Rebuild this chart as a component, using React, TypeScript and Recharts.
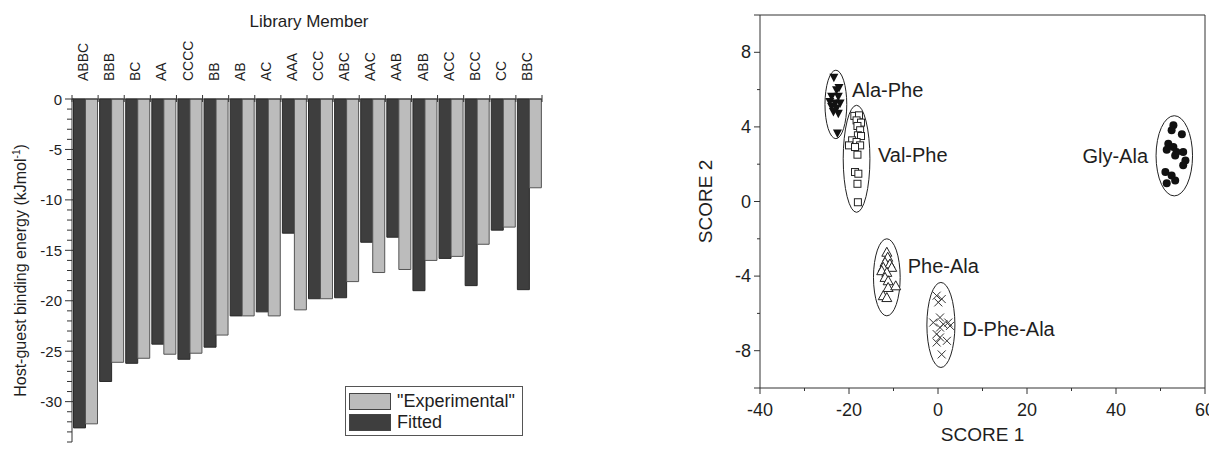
import React from 'react';
import {
  BarChart, Bar, XAxis, YAxis, Legend, Label,
  ScatterChart, Scatter, ReferenceLine, ReferenceArea, ReferenceDot,
} from 'recharts';

const FONT = '"Liberation Sans", Arial, sans-serif';
const INK = '#1e1e1e';

// left panel: binding energies per library member
const members = ['ABBC', 'BBB', 'BC', 'AA', 'CCCC', 'BB', 'AB', 'AC', 'AAA', 'CCC', 'ABC', 'AAC', 'AAB', 'ABB', 'ACC', 'BCC', 'CC', 'BBC'];
const fitted = [-32.6, -28.0, -26.2, -24.3, -25.8, -24.6, -21.5, -21.1, -13.3, -19.8, -19.7, -14.2, -13.7, -19.0, -15.8, -18.5, -13.0, -18.9];
const experimental = [-32.2, -26.1, -25.7, -25.3, -25.2, -23.4, -21.5, -21.5, -20.9, -19.8, -18.1, -17.2, -16.9, -16.0, -15.6, -14.4, -12.7, -8.8];
const energyMajorTicks = [0, -5, -10, -15, -20, -25, -30];
const energyTicks = Array.from({ length: 35 }, (_, i) => -i);

const barData = members.map((m, i) => ({ member: m, fitted: fitted[i], experimental: experimental[i] }));

// right panel: PCA scores
const alaPhe = [[-23.4, 6.63], [-22.25, 6.09], [-22.8, 5.97], [-23.9, 5.61], [-22.4, 5.61], [-24.3, 5.34], [-23.1, 5.25], [-22.0, 5.25], [-23.9, 5.07], [-22.8, 4.98], [-23.5, 4.8], [-22.4, 4.71], [-22.6, 3.64]];
const valPhe = [[-18.8, 4.59], [-17.75, 4.62], [-18.3, 4.35], [-17.3, 4.23], [-18.1, 4.05], [-17.5, 3.82], [-18.0, 3.55], [-17.3, 3.51], [-19.3, 3.28], [-18.3, 3.19], [-20.0, 3.01], [-17.5, 3.01], [-18.65, 2.92], [-18.1, 2.51], [-18.65, 1.58], [-17.9, 1.49], [-18.1, 0.95], [-18.0, -0.04]];
const glyAla = [[52.9, 4.09], [52.5, 3.82], [54.8, 3.6], [51.75, 3.1], [52.9, 2.92], [51.4, 2.78], [53.6, 2.65], [55.1, 2.65], [53.3, 2.47], [55.6, 2.2], [55.1, 1.94], [51.1, 1.58], [52.5, 1.4], [53.3, 1.13], [51.4, 0.98]];
const pheAla = [[-11.5, -2.72], [-11.3, -2.99], [-11.9, -3.26], [-10.8, -3.35], [-12.3, -3.53], [-10.4, -3.53], [-12.65, -3.71], [-11.5, -3.8], [-11.9, -4.07], [-11.2, -4.25], [-11.2, -4.61], [-9.5, -4.52], [-12.3, -5.05], [-11.5, -5.15]];
const dPheAla = [[-0.3, -5.05], [0.83, -5.23], [0.07, -5.41], [-1.06, -6.49], [0.45, -6.22], [1.2, -6.58], [2.3, -6.49], [2.7, -6.67], [0.45, -6.76], [-0.3, -7.11], [0.45, -7.29], [2.0, -7.47], [-0.3, -7.56], [0.83, -8.2]];

// cluster outlines [x1, x2, y1, y2]
const clusters = [
  [-25.4, -20.5, 3.37, 7.04],
  [-21.3, -15.3, -0.58, 5.16],
  [49.0, 57.2, 0.3, 4.6],
  [-14.5, -8.5, -6.13, -2.0],
  [-2.5, 3.8, -8.9, -4.34],
];
const clusterNames = ['Ala-Phe', 'Val-Phe', 'Gly-Ala', 'Phe-Ala', 'D-Phe-Ala'];
const labelX = [-19.3, -13.5, 47.2, -6.8, 5.5];
const labelY = [5.97, 2.47, 2.44, -3.47, -6.82];
const labelAnchor = ['start', 'start', 'end', 'start', 'start'];

const score1Ticks = [-40, -30, -20, -10, 0, 10, 20, 30, 40, 50, 60];
const score2Ticks = [-10, -8, -6, -4, -2, 0, 2, 4, 6, 8, 10];

const toPts = (arr: number[][]) => arr.map(([x, y]) => ({ x, y }));

const BAR_W = 560;
const BAR_PLOT_W = 470;
const band = BAR_PLOT_W / members.length;

const EnergyTick = (props: any) => {
  const { x, y, payload } = props;
  const v = payload.value;
  const major = energyMajorTicks.includes(v);
  return (
    <g>
      <line x1={x - (major ? 7 : 5)} x2={x + (major ? 2 : 0)} y1={y} y2={y} stroke="#333" />
      {major && (
        <text x={x - 10} y={y} textAnchor="end" dominantBaseline="central" fontSize={15} fill={INK} fontFamily={FONT}>
          {v}
        </text>
      )}
    </g>
  );
};

const MemberTick = (props: any) => {
  const { x, y, payload, index } = props;
  const h = band / 2;
  return (
    <g>
      <line x1={x - h} x2={x - h} y1={y - 4} y2={y + 3} stroke="#333" />
      {index === members.length - 1 && <line x1={x + h} x2={x + h} y1={y - 4} y2={y + 3} stroke="#333" />}
      <text transform={`translate(${x + 3},${y - 18}) rotate(-90)`} textAnchor="start" fontSize={14} fill={INK} fontFamily={FONT}>
        {payload.value}
      </text>
    </g>
  );
};

const ScoreXTick = (props: any) => {
  const { x, y, payload } = props;
  const major = payload.value % 20 === 0;
  return (
    <g>
      <line x1={x} x2={x} y1={y} y2={y + (major ? 6 : 3)} stroke="#333" />
      {major && (
        <text x={x} y={y + 22} textAnchor="middle" dominantBaseline="central" fontSize={18} fill={INK} fontFamily={FONT}>
          {payload.value}
        </text>
      )}
    </g>
  );
};

const ScoreYTick = (props: any) => {
  const { x, y, payload } = props;
  const major = payload.value % 4 === 0 && Math.abs(payload.value) !== 10;
  const edge = Math.abs(payload.value) === 10;
  return (
    <g>
      <line x1={x - (major || edge ? 6 : 3)} x2={x} y1={y} y2={y} stroke="#333" />
      {major && (
        <text x={x - 9} y={y} textAnchor="end" dominantBaseline="central" fontSize={18} fill={INK} fontFamily={FONT}>
          {payload.value}
        </text>
      )}
    </g>
  );
};

const LegendBox = () => (
  <div
    style={{
      border: '1.5px solid #555', width: 178, height: 50, boxSizing: 'border-box', background: '#fff',
      fontFamily: FONT, fontSize: 18, color: INK, padding: '4px 0 0 3px',
    }}
  >
    {[['"Experimental"', '#bcbcbc'], ['Fitted', '#3e3e3e']].map(([t, c]) => (
      <div key={t} style={{ display: 'flex', alignItems: 'center', height: 20, marginBottom: 1.5 }}>
        <span style={{ width: 40, height: 15, background: c, border: '1px solid #444', marginRight: 6, display: 'inline-block' }} />
        <span>{t}</span>
      </div>
    ))}
  </div>
);

const markers: Record<string, (p: any) => React.ReactElement> = {
  down: ({ cx, cy }) => <polygon points={`${cx - 4.5},${cy - 4} ${cx + 4.5},${cy - 4} ${cx},${cy + 4.5}`} fill="#111" />,
  square: ({ cx, cy }) => <rect x={cx - 3.5} y={cy - 3.5} width={7} height={7} fill="#fff" stroke="#222" />,
  circle: ({ cx, cy }) => <circle cx={cx} cy={cy} r={4} fill="#111" />,
  up: ({ cx, cy }) => <polygon points={`${cx - 5},${cy + 4} ${cx + 5},${cy + 4} ${cx},${cy - 5}`} fill="#fff" stroke="#222" />,
  cross: ({ cx, cy }) => (
    <g stroke="#333" strokeWidth={1}>
      <line x1={cx - 4} y1={cy - 4} x2={cx + 4} y2={cy + 4} />
      <line x1={cx - 4} y1={cy + 4} x2={cx + 4} y2={cy - 4} />
    </g>
  ),
};

export default function App() {
  return (
    <div style={{ position: 'relative', width: 1201, height: 435, fontFamily: FONT }}>
      <div style={{ position: 'absolute', left: 0, top: 0 }}>
        <BarChart width={BAR_W} height={435} data={barData} margin={{ top: 0, right: 26, bottom: 1, left: 0 }} barCategoryGap={1.5} barGap={0}>
          <XAxis
            dataKey="member"
            orientation="top"
            height={91}
            interval={0}
            tickSize={0}
            tickMargin={0}
            tick={<MemberTick />}
            stroke="#333"
          >
            <Label
              content={({ viewBox }: any) => (
                <text x={viewBox.x + viewBox.width / 2 + 2} y={13} textAnchor="middle" dominantBaseline="central" fontSize={17} fill={INK} fontFamily={FONT}>
                  Library Member
                </text>
              )}
            />
          </XAxis>
          <YAxis
            type="number"
            domain={[-34, 0]}
            ticks={energyTicks}
            interval={0}
            width={64}
            tickSize={0}
            tickMargin={0}
            tick={<EnergyTick />}
            stroke="#333"
          >
            <Label
              content={({ viewBox }: any) => (
                <text
                  transform={`translate(${viewBox.x + 18},${viewBox.y + viewBox.height / 2}) rotate(-90)`}
                  textAnchor="middle"
                  fontSize={16}
                  fill={INK}
                  fontFamily={FONT}
                >
                  <tspan>Host-guest binding energy (kJmol</tspan>
                  <tspan fontSize={10} dy={-6}>-1</tspan>
                  <tspan dy={6}>)</tspan>
                </text>
              )}
            />
          </YAxis>
          <Legend layout="horizontal" verticalAlign="middle" wrapperStyle={{ left: 337, top: 378, width: 178 }} content={<LegendBox />} />
          <Bar dataKey="fitted" name="Fitted" fill="#3e3e3e" stroke="#2a2a2a" isAnimationActive={false} />
          <Bar dataKey="experimental" name='"Experimental"' fill="#bcbcbc" stroke="#555" isAnimationActive={false} />
        </BarChart>
      </div>

      <div style={{ position: 'absolute', left: 640, top: 0 }}>
        <ScatterChart width={569} height={443} margin={{ top: 7, right: 12, bottom: 0, left: 0 }} style={{ overflow: 'visible' }}>
          <XAxis
            type="number"
            dataKey="x"
            domain={[-40, 60]}
            ticks={score1Ticks}
            interval={0}
            height={63}
            tickSize={0}
            tickMargin={0}
            tick={<ScoreXTick />}
            stroke="#333"
          >
            <Label
              content={({ viewBox }: any) => (
                <text x={viewBox.x + viewBox.width / 2} y={viewBox.y + 46} textAnchor="middle" dominantBaseline="central" fontSize={19} fill={INK} fontFamily={FONT}>
                  SCORE 1
                </text>
              )}
            />
          </XAxis>
          <YAxis
            type="number"
            dataKey="y"
            domain={[-10, 10]}
            ticks={score2Ticks}
            interval={0}
            width={112}
            tickSize={0}
            tickMargin={0}
            tick={<ScoreYTick />}
            stroke="#333"
          >
            <Label
              content={({ viewBox }: any) => (
                <text transform={`translate(${viewBox.x + 64},${viewBox.y + viewBox.height / 2}) rotate(-90)`} textAnchor="middle" fontSize={19} fill={INK} fontFamily={FONT}>
                  SCORE 2
                </text>
              )}
            />
          </YAxis>
          <ReferenceLine y={10} stroke="#333" />
          <ReferenceLine x={60} stroke="#333" />
          {clusters.map(([x1, x2, y1, y2], i) => (
            <ReferenceArea
              key={clusterNames[i]}
              x1={x1}
              x2={x2}
              y1={y1}
              y2={y2}
              shape={(p: any) => (
                <ellipse cx={p.x + p.width / 2} cy={p.y + p.height / 2} rx={p.width / 2} ry={p.height / 2} fill="none" stroke="#222" strokeWidth={1} />
              )}
            />
          ))}
          {clusterNames.map((n, i) => (
            <ReferenceDot
              key={n}
              x={labelX[i]}
              y={labelY[i]}
              r={0}
              shape={(p: any) => (
                <text x={p.cx} y={p.cy} textAnchor={labelAnchor[i] as any} dominantBaseline="central" fontSize={20} fill={INK} fontFamily={FONT}>
                  {n}
                </text>
              )}
            />
          ))}
          <Scatter name="Ala-Phe" data={toPts(alaPhe)} shape={markers.down} isAnimationActive={false} />
          <Scatter name="Val-Phe" data={toPts(valPhe)} shape={markers.square} isAnimationActive={false} />
          <Scatter name="Gly-Ala" data={toPts(glyAla)} shape={markers.circle} isAnimationActive={false} />
          <Scatter name="Phe-Ala" data={toPts(pheAla)} shape={markers.up} isAnimationActive={false} />
          <Scatter name="D-Phe-Ala" data={toPts(dPheAla)} shape={markers.cross} isAnimationActive={false} />
        </ScatterChart>
      </div>
    </div>
  );
}
